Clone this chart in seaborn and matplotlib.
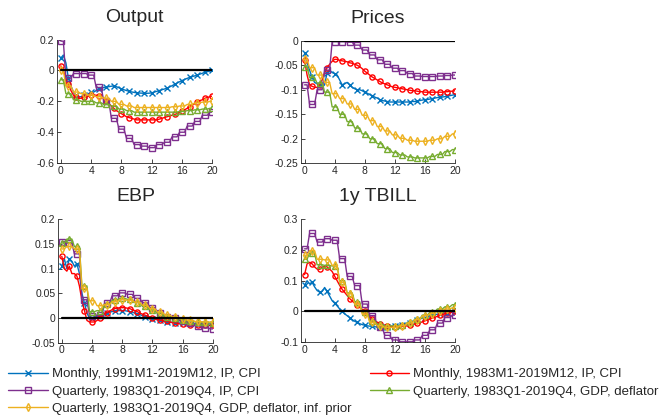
import numpy as np
import seaborn as sns
from matplotlib import pyplot as plt

sns.set_style("white")
plt.rcParams['font.family'] = ['Liberation Sans', 'DejaVu Sans']
plt.rcParams['axes.unicode_minus'] = False

# horizon in quarters, monthly grid
x_month = np.arange(61) / 3

# ---- Output ----
out_m91 = [0.08, 0.10, 0.05, -0.05, -0.10, -0.14, -0.16, -0.17, -0.17, -0.16,
           -0.16, -0.15, -0.14, -0.14, -0.13, -0.12, -0.115, -0.11, -0.107, -0.105,
           -0.102, -0.10, -0.105, -0.112, -0.12, -0.125, -0.13, -0.135, -0.139, -0.142,
           -0.145, -0.146, -0.147, -0.148, -0.148, -0.147, -0.145, -0.14, -0.135, -0.13,
           -0.125, -0.12, -0.115, -0.107, -0.099, -0.09, -0.082, -0.073, -0.065, -0.058,
           -0.051, -0.045, -0.04, -0.035, -0.03, -0.024, -0.018, -0.012, -0.008, -0.004, 0.0]
out_m83 = [0.03, 0.0, -0.05, -0.09, -0.13, -0.16, -0.175, -0.18, -0.18, -0.175,
           -0.17, -0.165, -0.16, -0.16, -0.16, -0.165, -0.17, -0.18, -0.2, -0.215,
           -0.23, -0.245, -0.26, -0.27, -0.28, -0.29, -0.30, -0.305, -0.31, -0.315,
           -0.32, -0.32, -0.32, -0.32, -0.32, -0.32, -0.32, -0.32, -0.32, -0.315,
           -0.31, -0.305, -0.30, -0.295, -0.29, -0.285, -0.28, -0.27, -0.265, -0.255,
           -0.245, -0.235, -0.225, -0.215, -0.205, -0.195, -0.19, -0.18, -0.175, -0.17, -0.165]
out_q_ip = [0.19, -0.05, -0.02, -0.02, -0.03, -0.11, -0.20, -0.31, -0.38, -0.44, -0.48,
            -0.49, -0.50, -0.48, -0.465, -0.43, -0.40, -0.36, -0.33, -0.29, -0.27]
out_q_gdp = [-0.06, -0.15, -0.19, -0.20, -0.20, -0.21, -0.22, -0.23, -0.25, -0.26, -0.27,
             -0.27, -0.27, -0.27, -0.27, -0.27, -0.265, -0.26, -0.255, -0.25, -0.245]
out_q_prior = [0.0, -0.10, -0.14, -0.15, -0.16, -0.17, -0.18, -0.20, -0.22, -0.23, -0.24,
               -0.24, -0.24, -0.24, -0.24, -0.235, -0.23, -0.22, -0.21, -0.205, -0.20]

# ---- Prices ----
pr_m91 = [-0.025, -0.045, -0.06, -0.075, -0.085, -0.088, -0.09, -0.095, -0.09, -0.065,
          -0.06, -0.065, -0.067, -0.07, -0.08, -0.09, -0.088, -0.085, -0.09, -0.095,
          -0.098, -0.10, -0.10, -0.102, -0.105, -0.107, -0.11, -0.112, -0.115, -0.117,
          -0.12, -0.122, -0.123, -0.124, -0.125, -0.125, -0.125, -0.125, -0.125, -0.125,
          -0.125, -0.125, -0.125, -0.124, -0.124, -0.123, -0.122, -0.121, -0.12, -0.12,
          -0.119, -0.118, -0.117, -0.116, -0.115, -0.115, -0.114, -0.113, -0.112, -0.111, -0.11]
pr_m83 = [-0.04, -0.07, -0.09, -0.093, -0.095, -0.095, -0.09, -0.08, -0.065, -0.055,
          -0.048, -0.042, -0.038, -0.038, -0.04, -0.041, -0.042, -0.043, -0.045, -0.046,
          -0.048, -0.05, -0.053, -0.057, -0.062, -0.066, -0.07, -0.074, -0.077, -0.08,
          -0.083, -0.086, -0.088, -0.09, -0.092, -0.094, -0.095, -0.096, -0.097, -0.098,
          -0.099, -0.10, -0.101, -0.102, -0.102, -0.103, -0.104, -0.104, -0.105, -0.105,
          -0.105, -0.105, -0.105, -0.105, -0.105, -0.105, -0.104, -0.104, -0.103, -0.103, -0.102]
pr_q_ip = [-0.09, -0.13, -0.10, -0.06, -0.002, -0.002, -0.003, -0.009, -0.019, -0.029, -0.039,
           -0.048, -0.056, -0.061, -0.067, -0.072, -0.073, -0.073, -0.072, -0.071, -0.07]
pr_q_gdp = [-0.053, -0.075, -0.087, -0.105, -0.135, -0.15, -0.165, -0.178, -0.19, -0.20, -0.21,
            -0.22, -0.228, -0.233, -0.237, -0.239, -0.239, -0.236, -0.232, -0.226, -0.222]
pr_q_prior = [-0.038, -0.055, -0.07, -0.085, -0.108, -0.118, -0.129, -0.14, -0.152, -0.163, -0.175,
              -0.184, -0.192, -0.199, -0.203, -0.205, -0.205, -0.203, -0.20, -0.195, -0.19]

# ---- EBP ----
ebp_m91 = [0.105, 0.12, 0.10, 0.12, 0.115, 0.105, 0.11, 0.09, 0.05, 0.03,
           0.01, 0.0, 0.0, 0.002, 0.004, 0.005, 0.007, 0.009, 0.011, 0.012,
           0.013, 0.014, 0.015, 0.015, 0.015, 0.015, 0.014, 0.013, 0.012, 0.01,
           0.008, 0.007, 0.005, 0.003, 0.002, 0.0, -0.001, -0.002, -0.004, -0.005,
           -0.006, -0.007, -0.008, -0.009, -0.009, -0.01, -0.01, -0.01, -0.01, -0.011,
           -0.011, -0.011, -0.011, -0.012, -0.012, -0.012, -0.012, -0.012, -0.012, -0.012, -0.012]
ebp_m83 = [0.125, 0.10, 0.095, 0.105, 0.09, 0.09, 0.085, 0.065, 0.035, 0.015,
           -0.005, -0.008, -0.008, -0.008, -0.005, 0.0, 0.004, 0.008, 0.011, 0.014,
           0.017, 0.019, 0.02, 0.021, 0.021, 0.021, 0.02, 0.019, 0.017, 0.015,
           0.013, 0.01, 0.008, 0.006, 0.004, 0.002, 0.0, -0.001, -0.003, -0.004,
           -0.005, -0.006, -0.007, -0.008, -0.009, -0.01, -0.011, -0.012, -0.012, -0.013,
           -0.013, -0.014, -0.014, -0.014, -0.015, -0.015, -0.015, -0.015, -0.015, -0.015, -0.015]
ebp_q_ip = [0.155, 0.152, 0.13, 0.037, 0.005, 0.006, 0.03, 0.045, 0.051, 0.048, 0.04,
            0.031, 0.021, 0.01, 0.003, 0.0, -0.006, -0.011, -0.016, -0.02, -0.022]
ebp_q_gdp = [0.152, 0.16, 0.145, 0.065, 0.013, 0.015, 0.028, 0.036, 0.04, 0.038, 0.031,
             0.024, 0.016, 0.009, 0.003, 0.0, -0.003, -0.006, -0.008, -0.009, -0.01]
ebp_q_prior = [0.14, 0.145, 0.14, 0.06, 0.035, 0.025, 0.027, 0.033, 0.037, 0.036, 0.032,
               0.026, 0.019, 0.012, 0.006, 0.002, -0.001, -0.005, -0.007, -0.008, -0.008]

# ---- 1y TBILL ----
tb_m91 = [0.085, 0.10, 0.09, 0.095, 0.08, 0.068, 0.063, 0.065, 0.078, 0.065,
          0.05, 0.035, 0.027, 0.018, 0.008, 0.0, -0.008, -0.014, -0.02, -0.027,
          -0.032, -0.036, -0.04, -0.043, -0.045, -0.047, -0.048, -0.049, -0.05, -0.051,
          -0.052, -0.052, -0.052, -0.051, -0.05, -0.049, -0.048, -0.047, -0.045, -0.044,
          -0.042, -0.04, -0.037, -0.034, -0.031, -0.028, -0.025, -0.022, -0.02, -0.017,
          -0.015, -0.013, -0.011, -0.009, -0.008, -0.006, -0.005, -0.004, -0.003, -0.002, -0.001]
tb_m83 = [0.12, 0.155, 0.16, 0.155, 0.145, 0.138, 0.137, 0.142, 0.148, 0.145,
          0.138, 0.13, 0.115, 0.10, 0.085, 0.072, 0.062, 0.052, 0.042, 0.034,
          0.027, 0.02, 0.013, 0.007, 0.0, -0.008, -0.016, -0.024, -0.03, -0.035,
          -0.04, -0.043, -0.046, -0.048, -0.05, -0.05, -0.05, -0.05, -0.05, -0.049,
          -0.048, -0.047, -0.045, -0.043, -0.041, -0.039, -0.037, -0.034, -0.031, -0.028,
          -0.025, -0.022, -0.019, -0.016, -0.013, -0.01, -0.008, -0.006, -0.004, -0.002, 0.0]
tb_q_ip = [0.204, 0.254, 0.226, 0.237, 0.232, 0.172, 0.114, 0.084, 0.024, -0.014, -0.052,
           -0.078, -0.093, -0.099, -0.099, -0.093, -0.078, -0.06, -0.038, -0.02, -0.012]
tb_q_gdp = [0.17, 0.19, 0.152, 0.15, 0.148, 0.10, 0.06, 0.032, -0.003, -0.031, -0.042,
            -0.047, -0.047, -0.045, -0.036, -0.025, -0.012, -0.003, 0.008, 0.015, 0.022]
tb_q_prior = [0.183, 0.198, 0.17, 0.168, 0.15, 0.095, 0.057, 0.024, -0.009, -0.036, -0.047,
              -0.052, -0.052, -0.047, -0.038, -0.027, -0.014, -0.007, 0.002, 0.008, 0.012]

titles = ["Output", "Prices", "EBP", "1y TBILL"]
yticks = [[-0.6, -0.4, -0.2, 0, 0.2],
          [-0.25, -0.2, -0.15, -0.1, -0.05, 0],
          [-0.05, 0, 0.05, 0.1, 0.15, 0.2],
          [-0.1, 0, 0.1, 0.2, 0.3]]
panels = [
    [out_m91, out_m83, out_q_ip, out_q_gdp, out_q_prior],
    [pr_m91, pr_m83, pr_q_ip, pr_q_gdp, pr_q_prior],
    [ebp_m91, ebp_m83, ebp_q_ip, ebp_q_gdp, ebp_q_prior],
    [tb_m91, tb_m83, tb_q_ip, tb_q_gdp, tb_q_prior],
]

labels = ["Monthly, 1991M1-2019M12, IP, CPI",
          "Monthly, 1983M1-2019M12, IP, CPI",
          "Quarterly, 1983Q1-2019Q4, IP, CPI",
          "Quarterly, 1983Q1-2019Q4, GDP, deflator",
          "Quarterly, 1983Q1-2019Q4, GDP, deflator, inf. prior"]
colors = ["#0072BD", "#FF0000", "#7E2F8E", "#77AC30", "#EDB120"]
markers = ["x", "o", "s", "^", "d"]
is_quarterly = [False, False, True, True, True]

rects = [[0.0855, 0.607, 0.233, 0.2976],
         [0.451, 0.6065, 0.231, 0.2954],
         [0.087, 0.1742, 0.232, 0.2973],
         [0.451, 0.1757, 0.231, 0.2957]]

fig = plt.figure(figsize=(6.67, 4.15), dpi=100)
axes = []
for i in range(4):
    ax = fig.add_axes(rects[i])
    for j in range(5):
        y = np.array(panels[i][j])
        if is_quarterly[j]:
            # quarterly value held over the three months around each quarter
            y = np.repeat(y, 3)[1:62]
        sns.lineplot(x=x_month, y=y, ax=ax, color=colors[j], marker=markers[j],
                     markevery=3, markersize=3.7, markerfacecolor="none",
                     markeredgecolor=colors[j], markeredgewidth=1.0,
                     linewidth=1.0, label=labels[j], legend=False)
    ax.plot([0, 20], [0, 0], color="black", linewidth=1.6, zorder=5)
    ax.set_xlim(-0.5, 20)
    ax.set_ylim(yticks[i][0], yticks[i][-1])
    ax.set_xticks([0, 4, 8, 12, 16, 20])
    ax.set_xticklabels(["0", "4", "8", "12", "16", "20"])
    ax.set_yticks(yticks[i])
    ax.set_yticklabels(["%g" % v for v in yticks[i]])
    ax.tick_params(direction="in", length=3, width=0.6, labelsize=7.5,
                   colors="#262626", pad=2, left=True, bottom=True)
    ax.set_xlabel("")
    ax.set_ylabel("")
    for side in ["top", "right"]:
        ax.spines[side].set_visible(False)
    for side in ["left", "bottom"]:
        ax.spines[side].set_color("#262626")
        ax.spines[side].set_linewidth(0.6)
    ax.set_title(titles[i], fontsize=14, pad=13)
    axes.append(ax)

handles, labs = axes[0].get_legend_handles_labels()
order = [0, 2, 4, 1, 3]
fig.legend([handles[k] for k in order], [labs[k] for k in order],
           ncol=2, loc="upper left", bbox_to_anchor=(0.012, 0.113),
           frameon=False, fontsize=9.5, handlelength=3.0, handletextpad=0.3,
           columnspacing=1.4, labelspacing=0.38, borderpad=0, borderaxespad=0)

fig.savefig("out.png", dpi=100)
